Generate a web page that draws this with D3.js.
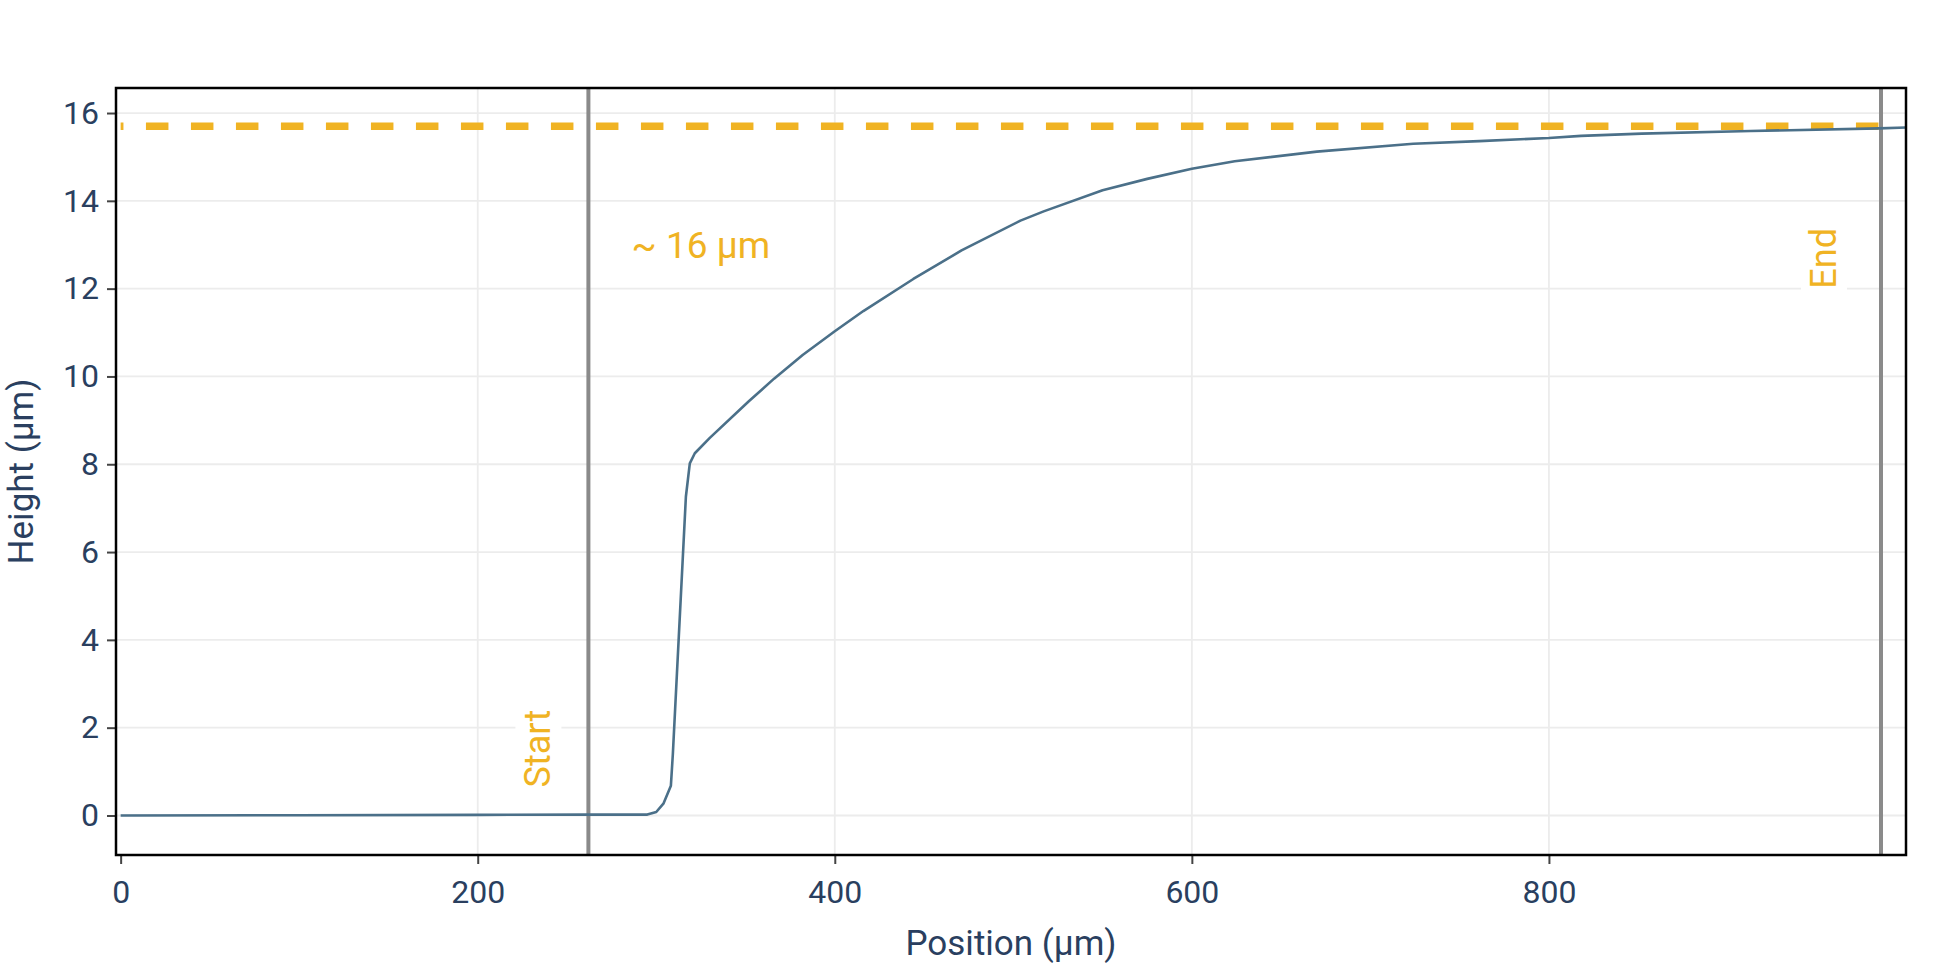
<!DOCTYPE html>
<html>
<head>
<meta charset="utf-8">
<script src="https://cdn.jsdelivr.net/npm/d3@7"></script>
<style>
  body { margin: 0; background: #fff; }
  text { font-family: Roboto, sans-serif; }
</style>
</head>
<body>
<svg class="profile"></svg>
<script>
// profile (µm)
let positions = [0, 100, 200, 262, 295, 300, 304, 308.2, 309.3, 316.6, 318.8, 321.6, 330, 352, 366, 382,
  400, 416, 444, 471, 504, 517, 550, 575, 600, 624, 670, 724, 761, 800, 818, 852, 913, 985, 1000]
let heights = [0, 0.005, 0.015, 0.02, 0.02, 0.08, 0.27, 0.68, 1.4, 7.26, 8.02, 8.25, 8.6, 9.44, 9.95, 10.49,
  11.03, 11.49, 12.22, 12.87, 13.55, 13.76, 14.24, 14.5, 14.73, 14.9, 15.12, 15.3, 15.36, 15.43, 15.48, 15.53, 15.59, 15.65, 15.67]

let xTicks = [0, 200, 400, 600, 800]
let yTicks = [0, 2, 4, 6, 8, 10, 12, 14, 16]

let plateau = 15.7
let startPos = 262
let endPos = 986
let stepLabel = '~ 16 µm'

let margin = { top: 88, right: 44, bottom: 120, left: 116 }
let width = 1950 - margin.left - margin.right
let height = 975 - margin.top - margin.bottom

let svg = d3.select('.profile')
    .attr('width', 1950)
    .attr('height', 975)

let chart = svg.append('g')
    .attr('transform', 'translate(' + margin.left + ',' + margin.top + ')')

let x = d3.scaleLinear().domain([-2.6, 1000]).range([0, width])
let y = d3.scaleLinear().domain([-0.9, 16.57]).range([height, 0])

// grid
chart.append('g').selectAll('line').data(yTicks).enter().append('line')
    .attr('x1', 0).attr('x2', width)
    .attr('y1', d => y(d)).attr('y2', d => y(d))
    .attr('stroke', '#ececec').attr('stroke-width', 1.8)

chart.append('g').selectAll('line').data(xTicks.filter(d => d > 0)).enter().append('line')
    .attr('x1', d => x(d)).attr('x2', d => x(d))
    .attr('y1', 0).attr('y2', height)
    .attr('stroke', '#ececec').attr('stroke-width', 1.8)

// axes
chart.append('g').attr('class', 'axis x')
    .attr('transform', 'translate(0,' + height + ')')
    .call(d3.axisBottom(x).tickValues(xTicks).tickSize(9).tickPadding(16))

chart.append('g').attr('class', 'axis y')
    .call(d3.axisLeft(y).tickValues(yTicks).tickSize(9).tickPadding(8))

chart.selectAll('.axis .domain').remove()
chart.selectAll('.axis .tick line').attr('stroke', '#444').attr('stroke-width', 2)
chart.selectAll('.axis .tick text')
    .attr('font-size', 32)
    .attr('font-family', 'Roboto, sans-serif')
    .attr('fill', '#2a3f5f')

// clip for marks
svg.append('clipPath').attr('id', 'plotclip')
  .append('rect').attr('width', width).attr('height', height)

let marks = chart.append('g').attr('clip-path', 'url(#plotclip)')

// start / end markers
marks.selectAll('.marker').data([startPos, endPos]).enter().append('line')
    .attr('class', 'marker')
    .attr('x1', d => x(d)).attr('x2', d => x(d))
    .attr('y1', 0).attr('y2', height)
    .attr('stroke', '#8a8a8a').attr('stroke-width', 4)

// plateau level
marks.append('line')
    .attr('x1', x(0)).attr('x2', x(endPos))
    .attr('y1', y(plateau)).attr('y2', y(plateau))
    .attr('stroke', '#f0b323')
    .attr('stroke-width', 7.5)
    .attr('stroke-dasharray', '22.5,22.5')
    .attr('stroke-dashoffset', 19.7)

// profile
let profile = positions.map((p, i) => [p, heights[i]])
marks.append('path')
    .datum(profile)
    .attr('fill', 'none')
    .attr('stroke', '#4b7089')
    .attr('stroke-width', 2.6)
    .attr('stroke-linejoin', 'round')
    .attr('d', d3.line().x(d => x(d[0])).y(d => y(d[1])))

// frame
chart.append('rect')
    .attr('width', width).attr('height', height)
    .attr('fill', 'none').attr('stroke', '#000').attr('stroke-width', 2.5)

// annotations with white box behind
function label(g, txt) {
  let t = g.append('text')
      .attr('font-size', 36)
      .attr('fill', '#f0b323')
      .text(txt)
  let b = t.node().getBBox()
  g.insert('rect', 'text')
      .attr('x', b.x - 6).attr('y', b.y - 2)
      .attr('width', b.width + 12).attr('height', b.height + 4)
      .attr('fill', '#fff')
  return t
}

let startG = chart.append('g')
    .attr('transform', 'translate(' + (x(startPos) - 38) + ',' + y(0.64) + ') rotate(-90)')
label(startG, 'Start')

let endG = chart.append('g')
    .attr('transform', 'translate(' + (x(endPos) - 45) + ',' + y(12) + ') rotate(-90)')
label(endG, 'End')

chart.append('text')
    .attr('x', x(325)).attr('y', y(13))
    .attr('dy', '0.35em')
    .attr('text-anchor', 'middle')
    .attr('font-size', 37)
    .attr('fill', '#f0b323')
    .text(stepLabel)

// axis titles
svg.append('text')
    .attr('x', margin.left + width / 2).attr('y', 955)
    .attr('text-anchor', 'middle')
    .attr('font-size', 35)
    .attr('fill', '#2a3f5f')
    .text('Position (µm)')

svg.append('text')
    .attr('transform', 'translate(33,' + (margin.top + height / 2) + ') rotate(-90)')
    .attr('text-anchor', 'middle')
    .attr('font-size', 35)
    .attr('fill', '#2a3f5f')
    .text('Height (µm)')
</script>
</body>
</html>
